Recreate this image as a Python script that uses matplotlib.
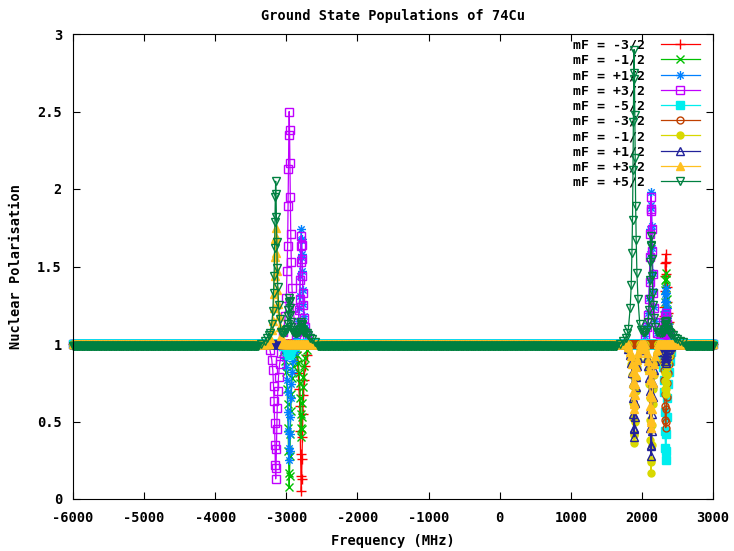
import numpy as np
import matplotlib
matplotlib.use("Agg")
import matplotlib.pyplot as plt
from matplotlib.path import Path

plt.rcParams["axes.unicode_minus"] = False
plt.rcParams["font.family"] = ["DejaVu Sans Mono"]
plt.rcParams["font.weight"] = "bold"

# ---------------------------------------------------------------- data
title = "Ground State Populations of 74Cu"
x_label = "Frequency (MHz)"
y_label = "Nuclear Polarisation"

labels = ["mF = -3/2", "mF = -1/2", "mF = +1/2", "mF = +3/2", "mF = -5/2",
          "mF = -3/2", "mF = -1/2", "mF = +1/2", "mF = +3/2", "mF = +5/2"]

x_ticks = [-6000, -5000, -4000, -3000, -2000, -1000, 0, 1000, 2000, 3000]
x_tick_labels = ["-6000", "-5000", "-4000", "-3000", "-2000", "-1000",
                 "0", "1000", "2000", "3000"]
y_ticks = [0, 0.5, 1, 1.5, 2, 2.5, 3]
y_tick_labels = ["0", "0.5", "1", "1.5", "2", "2.5", "3"]

# laser scan (MHz)
scan_start, scan_stop, scan_step = -6000, 3000, 10

# off-resonance polarisation of each sub-state
baseline = [1.0, 1.0, 1.0, 1.0, 1.0, 1.0, 1.0, 1.0, 1.0, 0.99]

# hyperfine line centres (MHz)
L1, L2, L3 = -3150, -2960, -2790
R1, R2, R3 = 1890, 2130, 2335

# sampling offsets around each line centre (MHz)
line_offsets = [-80, -55, -40, -30, -22, -15, -10, -5, 0,
                5, 10, 15, 22, 30, 40, 55, 80]

# polarisation sampled at line_offsets, per sub-state and per line
lines_m3h = {
    L3: [0.95, 0.89, 0.81, 0.71, 0.60, 0.44, 0.29, 0.15, 0.05,
         0.13, 0.26, 0.40, 0.55, 0.67, 0.77, 0.86, 0.93],
    R3: [1.03, 1.07, 1.12, 1.18, 1.24, 1.34, 1.44, 1.52, 1.58,
         1.53, 1.45, 1.37, 1.27, 1.20, 1.14, 1.09, 1.04],
}
lines_m1h = {
    L2: [0.95, 0.89, 0.82, 0.71, 0.61, 0.46, 0.31, 0.17, 0.08,
         0.15, 0.28, 0.42, 0.57, 0.68, 0.78, 0.86, 0.94],
    L3: [0.97, 0.93, 0.88, 0.81, 0.75, 0.65, 0.55, 0.46, 0.40,
         0.45, 0.53, 0.62, 0.72, 0.79, 0.86, 0.91, 0.96],
    R3: [1.02, 1.06, 1.09, 1.14, 1.19, 1.27, 1.35, 1.41, 1.46,
         1.42, 1.36, 1.29, 1.22, 1.16, 1.11, 1.07, 1.03],
}
lines_p1h = {
    L2: [0.96, 0.91, 0.85, 0.77, 0.69, 0.56, 0.44, 0.33, 0.25,
         0.31, 0.42, 0.53, 0.65, 0.74, 0.82, 0.89, 0.95],
    L3: [1.04, 1.09, 1.15, 1.23, 1.31, 1.44, 1.56, 1.67, 1.74,
         1.68, 1.58, 1.47, 1.35, 1.26, 1.18, 1.11, 1.05],
    R2: [1.05, 1.12, 1.20, 1.30, 1.41, 1.58, 1.74, 1.88, 1.98,
         1.90, 1.76, 1.62, 1.46, 1.34, 1.24, 1.15, 1.07],
    R3: [1.02, 1.04, 1.07, 1.11, 1.15, 1.21, 1.27, 1.32, 1.36,
         1.33, 1.28, 1.23, 1.17, 1.13, 1.09, 1.05, 1.03],
}
lines_p3h = {
    L1: [0.96, 0.90, 0.83, 0.73, 0.63, 0.49, 0.35, 0.22, 0.13,
         0.20, 0.32, 0.45, 0.59, 0.70, 0.79, 0.87, 0.94],
    L2: [1.08, 1.18, 1.30, 1.47, 1.63, 1.89, 2.13, 2.35, 2.50,
         2.38, 2.17, 1.95, 1.71, 1.53, 1.36, 1.23, 1.11],
    L3: [1.04, 1.08, 1.14, 1.22, 1.29, 1.41, 1.53, 1.63, 1.70,
         1.64, 1.55, 1.44, 1.33, 1.25, 1.17, 1.11, 1.05],
    R2: [1.05, 1.11, 1.19, 1.29, 1.40, 1.56, 1.71, 1.86, 1.95,
         1.87, 1.74, 1.60, 1.45, 1.33, 1.23, 1.14, 1.07],
    R3: [1.01, 1.02, 1.04, 1.06, 1.08, 1.12, 1.15, 1.18, 1.20,
         1.18, 1.16, 1.13, 1.09, 1.07, 1.05, 1.03, 1.01],
}
lines_m5h_u = {
    L2: [0.99, 0.99, 0.99, 0.98, 0.97, 0.96, 0.95, 0.94, 0.93,
         0.94, 0.95, 0.96, 0.97, 0.98, 0.98, 0.99, 0.99],
    R3: [0.96, 0.91, 0.85, 0.77, 0.69, 0.56, 0.44, 0.33, 0.25,
         0.31, 0.42, 0.53, 0.65, 0.74, 0.82, 0.89, 0.95],
}
lines_m3h_u = {
    R3: [0.97, 0.94, 0.89, 0.83, 0.77, 0.68, 0.60, 0.51, 0.46,
         0.50, 0.58, 0.66, 0.75, 0.81, 0.87, 0.92, 0.96],
}
lines_m1h_u = {
    R1: [0.97, 0.92, 0.87, 0.80, 0.73, 0.62, 0.52, 0.42, 0.36,
         0.41, 0.50, 0.60, 0.70, 0.78, 0.85, 0.90, 0.96],
    R2: [0.96, 0.90, 0.83, 0.74, 0.65, 0.51, 0.38, 0.25, 0.17,
         0.24, 0.35, 0.48, 0.61, 0.71, 0.80, 0.88, 0.94],
    R3: [0.98, 0.96, 0.94, 0.90, 0.87, 0.81, 0.76, 0.71, 0.68,
         0.71, 0.75, 0.80, 0.85, 0.89, 0.92, 0.95, 0.98],
}
lines_p1h_u = {
    R1: [0.97, 0.93, 0.88, 0.81, 0.75, 0.65, 0.55, 0.46, 0.40,
         0.45, 0.53, 0.62, 0.72, 0.79, 0.86, 0.91, 0.96],
    R2: [0.96, 0.91, 0.86, 0.78, 0.70, 0.58, 0.46, 0.35, 0.28,
         0.34, 0.44, 0.55, 0.66, 0.75, 0.83, 0.89, 0.95],
    R3: [0.99, 0.99, 0.98, 0.96, 0.95, 0.93, 0.91, 0.89, 0.88,
         0.89, 0.91, 0.92, 0.94, 0.96, 0.97, 0.98, 0.99],
}
lines_p3h_u = {
    L1: [1.04, 1.09, 1.15, 1.23, 1.32, 1.44, 1.56, 1.68, 1.75,
         1.69, 1.59, 1.47, 1.35, 1.26, 1.18, 1.11, 1.05],
    R1: [0.98, 0.95, 0.92, 0.87, 0.82, 0.75, 0.69, 0.62, 0.58,
         0.61, 0.67, 0.74, 0.80, 0.85, 0.90, 0.94, 0.97],
    R2: [0.97, 0.94, 0.89, 0.83, 0.77, 0.68, 0.60, 0.51, 0.46,
         0.50, 0.58, 0.66, 0.75, 0.81, 0.87, 0.92, 0.96],
}
lines_p5h_u = {
    L1: [1.07, 1.13, 1.21, 1.33, 1.44, 1.62, 1.79, 1.95, 2.05,
         1.97, 1.82, 1.66, 1.49, 1.37, 1.25, 1.16, 1.08],
    L2: [1.07, 1.08, 1.09, 1.10, 1.13, 1.18, 1.22, 1.27, 1.30,
         1.28, 1.23, 1.19, 1.14, 1.11, 1.09, 1.08, 1.07],
    L3: [1.07, 1.07, 1.08, 1.08, 1.09, 1.10, 1.11, 1.13, 1.14,
         1.13, 1.12, 1.10, 1.09, 1.08, 1.08, 1.07, 1.07],
    R1: [1.10, 1.23, 1.38, 1.59, 1.80, 2.12, 2.43, 2.71, 2.90,
         2.75, 2.48, 2.20, 1.89, 1.67, 1.46, 1.29, 1.13],
    R2: [1.08, 1.09, 1.14, 1.22, 1.29, 1.41, 1.53, 1.63, 1.70,
         1.64, 1.55, 1.44, 1.33, 1.25, 1.17, 1.11, 1.08],
    R3: [1.07, 1.07, 1.08, 1.08, 1.09, 1.10, 1.12, 1.14, 1.15,
         1.14, 1.13, 1.11, 1.10, 1.09, 1.08, 1.07, 1.06],
}
line_data = [lines_m3h, lines_m1h, lines_p1h, lines_p3h, lines_m5h_u,
             lines_m3h_u, lines_m1h_u, lines_p1h_u, lines_p3h_u, lines_p5h_u]

# broad power-broadened wings of the mF = +5/2 sub-state
wing_spans = [(-3400, -2550), (1640, 2620)]
wing_freq = [-3400, -3350, -3300, -3270, -3245, -3055, -2875, -2695,
             -2670, -2640, -2600, -2550,
             1640, 1690, 1740, 1770, 1795, 1990, 2010, 2030, 2230,
             2435, 2465, 2500, 2540, 2580, 2620]
wing_value = [0.99, 1.00, 1.02, 1.04, 1.06, 1.08, 1.08, 1.06,
              1.04, 1.03, 1.01, 0.99,
              0.99, 1.00, 1.02, 1.04, 1.07, 1.09, 1.08, 1.08, 1.08,
              1.06, 1.04, 1.03, 1.02, 1.01, 0.99]

# ---------------------------------------------------------------- style
colors = ["#ff0000", "#00c000", "#0080ff", "#c000ff", "#00eeee",
          "#c04000", "#d8d800", "#22229a", "#ffc020", "#008040"]

star = Path([(-1, 0), (1, 0), (0, -1), (0, 1),
             (-0.7, -0.7), (0.7, 0.7), (-0.7, 0.7), (0.7, -0.7)],
            [Path.MOVETO, Path.LINETO] * 4)
markers = ["+", "x", star, "s", "s", "o", "o", "^", "^", "v"]
filled = [False, False, False, False, True, False, True, False, True, False]
sizes = [7, 5.5, 6.5, 5.5, 5.5, 5, 5, 6, 6, 5.5]

# ---------------------------------------------------------------- figure
fig = plt.figure(figsize=(7.34, 5.51), dpi=100)
ax = fig.add_axes([73 / 734, 52 / 551, 640 / 734, 465 / 551])

scan = np.arange(scan_start, scan_stop + scan_step, scan_step)

for i in range(len(labels)):
    fx_parts, fy_parts = [], []
    keep = np.ones(scan.size, bool)
    for centre, vals in line_data[i].items():
        f = centre + np.asarray(line_offsets, float)
        fx_parts.append(f)
        fy_parts.append(np.asarray(vals, float))
        keep &= ~((scan >= f.min()) & (scan <= f.max()))
    if i == 9:
        fx_parts.append(np.asarray(wing_freq, float))
        fy_parts.append(np.asarray(wing_value, float))
        for lo, hi in wing_spans:
            keep &= ~((scan >= lo) & (scan <= hi))
    fx = np.concatenate([scan[keep]] + fx_parts)
    fy = np.concatenate([np.full(keep.sum(), baseline[i])] + fy_parts)
    order = np.argsort(fx, kind="stable")
    c = colors[i]
    ax.plot(fx[order], fy[order], color=c, lw=0.9,
            marker=markers[i], markersize=sizes[i], markeredgewidth=1.0,
            markerfacecolor=c if filled[i] else "none", markeredgecolor=c,
            label=labels[i], clip_on=False, zorder=2 + i * 0.01)

ax.set_xlim(scan_start, scan_stop)
ax.set_ylim(0, 3)
ax.set_xticks(x_ticks, labels=x_tick_labels)
ax.set_yticks(y_ticks, labels=y_tick_labels)
ax.tick_params(direction="in", top=True, right=True, length=5, width=0.8,
               labelsize=9.8)
ax.tick_params(axis="x", pad=9)
ax.tick_params(axis="y", pad=8)
for s in ax.spines.values():
    s.set_linewidth(0.8)
    s.set_zorder(3)

ax.set_title(title, fontsize=9.8, fontweight="bold", pad=10)
ax.set_xlabel(x_label, fontsize=9.8, fontweight="bold", labelpad=6)
ax.set_ylabel(y_label, fontsize=9.8, fontweight="bold", labelpad=10)

leg = ax.legend(loc="upper right", bbox_to_anchor=(0.98, 0.99),
                frameon=False, markerfirst=False, numpoints=1,
                handlelength=3.0, handletextpad=1.2, labelspacing=0.17,
                borderpad=0, borderaxespad=0,
                prop={"family": "DejaVu Sans Mono", "weight": "bold",
                      "size": 9.5})
leg.set_zorder(1)

fig.savefig("out.png", dpi=100)
